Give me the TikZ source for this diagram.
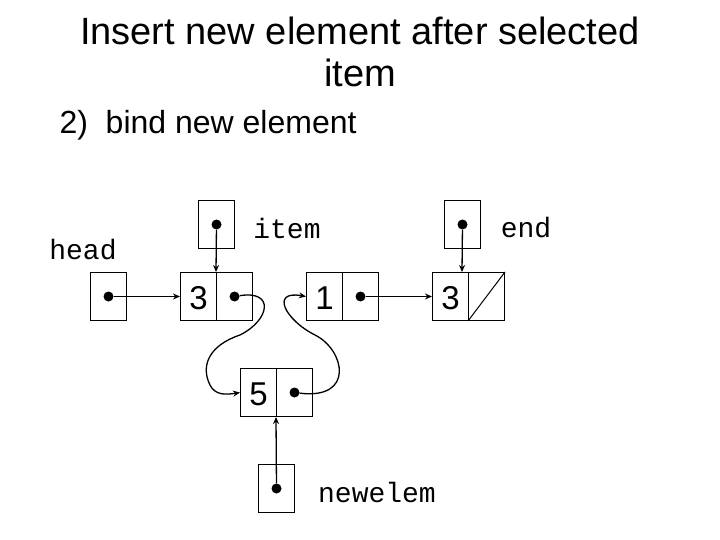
\documentclass[tikz,border=0pt]{standalone}
\usepackage{fontspec}
\setmainfont{Liberation Sans}
\newfontfamily\mono{Liberation Mono}
\usetikzlibrary{arrows.meta}
\begin{document}
\begin{tikzpicture}[x=1pt,y=-1pt,
  cell/.style={draw,line width=1pt,minimum width=36pt,minimum height=48pt,inner sep=0,anchor=north west},
  dot/.style={circle,fill,inner sep=0,minimum size=10pt},
  ptr/.style={line width=1.3pt,-{Stealth[length=7pt,width=6pt]}},
  lbl/.style={font=\mono\fontsize{28}{30}\selectfont},
  num/.style={font=\fontsize{33}{36}\selectfont}]
\useasboundingbox (0,0) rectangle (720,540);
\node[align=center,font=\fontsize{38}{42}\selectfont] (t) at (360,52) {Insert new element after selected\\item};
\node[anchor=west,font=\fontsize{32}{36}\selectfont] (s) at (56,125) {2)\ \ bind new element};
% cells
\node[cell] (h) at (90,272) {};
\node[cell] (a1) at (180,272) {}; \node[cell] (a2) at (216,272) {};
\node[cell] (b1) at (306,272) {}; \node[cell] (b2) at (342,272) {};
\node[cell] (c1) at (432,272) {}; \node[cell] (c2) at (468,272) {};
\node[cell] (n1) at (240,368) {}; \node[cell] (n2) at (276,368) {};
\node[cell] (it) at (198,200) {};
\node[cell] (en) at (444,200) {};
\node[cell] (nw) at (258,464) {};
\node[num] at ([yshift=-2pt]a1.center) {3};
\node[num] at ([yshift=-2pt]b1.center) {1};
\node[num] at ([yshift=-2pt]c1.center) {3};
\node[num] at ([yshift=-2pt]n1.center) {5};
\draw[line width=1pt] (c2.south west) -- (c2.north east);
% dots
\node[dot] (dh) at (h.center) {};
\node[dot] (da) at (a2.center) {};
\node[dot] (db) at (b2.center) {};
\node[dot] (dn) at (n2.center) {};
\node[dot] (di) at (it.center) {};
\node[dot] (de) at (en.center) {};
\node[dot] (dw) at (nw.center) {};
% labels
\node[lbl] (lh) at (83,250) {head};
\node[lbl] (li) at (287,228) {item};
\node[lbl] (le) at (526,228) {end};
\node[lbl] (lw) at (377,492) {newelem};
% pointers
\draw[ptr] (dh) -- (a1.west);
\draw[ptr] (di) -- (a2.north west);
\draw[ptr] (de) -- (462,272);
\draw[ptr] (db) -- (c1.west);
\draw[ptr] (dw) -- (n2.south west);
\draw[ptr] (da) .. controls (275,290) and (270,320) .. (240,335)
  .. controls (210,345) and (200,365) .. (210,385) .. controls (215,395) and (225,395) .. (n1.west);
\draw[ptr] (dn) .. controls (355,400) and (345,350) .. (315,335)
  .. controls (285,320) and (270,290) .. (b1.west);
\end{tikzpicture}
\end{document}
